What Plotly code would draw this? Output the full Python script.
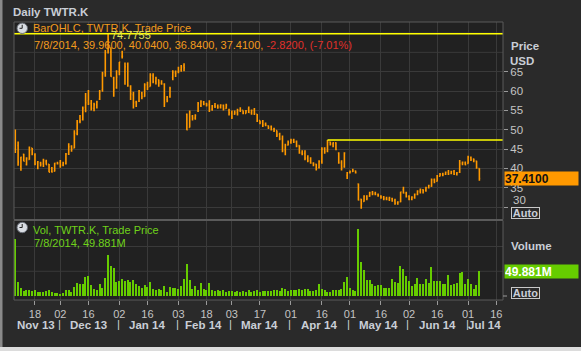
import pandas as pd
import plotly.graph_objects as go

# ---------------- data ----------------
holidays = ["2013-11-28", "2013-12-25", "2014-01-01", "2014-01-20",
            "2014-02-17", "2014-04-18", "2014-05-26", "2014-07-04"]
all_days = [d for d in pd.bdate_range("2013-11-07", "2014-07-31")
            if d.strftime("%Y-%m-%d") not in holidays]

open_ = [45.10, 45.93, 40.50, 43.66, 41.03, 42.34, 45.25, 43.50, 41.39, 41.40,
         41.25, 41.81, 41.08, 39.16, 39.30, 41.40, 41.50, 40.90, 41.20, 43.80,
         45.70, 45.30, 49.00, 52.20, 52.60, 55.80, 57.50, 56.80, 55.50, 56.50,
         57.90, 60.30, 64.90, 71.00, 70.10, 63.30, 60.90, 65.00, 69.00, 65.00,
         67.00, 61.20, 59.00, 57.20, 57.40, 59.50, 58.60, 61.70, 61.20, 63.90,
         62.50, 62.90, 62.00, 61.80, 57.80, 58.50, 63.50, 64.70, 65.00, 65.50,
         66.50, 54.00, 50.60, 53.50, 53.00, 54.80, 56.20, 57.20, 56.80, 56.50,
         55.30, 56.20, 56.00, 55.90, 56.30, 55.50, 55.00, 54.30, 54.00, 54.50,
         55.00, 55.00, 54.20, 55.40, 54.40, 55.10, 54.00, 52.40, 52.00, 51.40,
         51.00, 50.80, 50.10, 49.80, 48.80, 47.70, 44.80, 46.10, 46.80, 47.30,
         46.90, 45.90, 44.00, 43.90, 42.70, 42.00, 41.30, 41.10, 40.20, 41.80,
         45.20, 44.50, 46.80, 46.30, 46.60, 44.00, 41.50, 40.50, 38.20, 38.90,
         39.20, 39.30, 36.00, 32.00, 31.50, 32.90, 32.80, 33.80, 33.50, 33.20,
         32.90, 32.60, 32.20, 32.10, 32.20, 31.70, 31.10, 31.40, 34.50, 33.60,
         32.80, 32.00, 32.50, 33.30, 34.10, 34.50, 34.40, 35.00, 35.40, 37.10,
         36.70, 38.00, 38.50, 38.50, 39.00, 38.70, 39.20, 38.60, 39.00, 41.30,
         41.40, 41.30, 42.80, 42.40, 41.90, 39.96]
high = [50.09, 46.94, 43.00, 43.78, 42.87, 45.67, 45.27, 43.95, 41.90, 41.75,
        42.49, 42.28, 41.14, 40.40, 41.50, 41.70, 42.20, 41.70, 44.00, 46.50,
        46.00, 49.90, 52.50, 53.80, 56.00, 59.50, 60.30, 57.70, 57.00, 57.50,
        60.30, 65.00, 70.60, 74.7755, 71.30, 63.70, 65.40, 67.50, 70.40, 67.40,
        67.40, 61.50, 59.80, 57.50, 60.30, 59.80, 62.00, 62.40, 64.60, 64.60,
        63.70, 63.00, 62.80, 62.00, 58.70, 61.10, 65.40, 65.30, 66.30, 66.70,
        67.20, 54.20, 55.00, 53.80, 54.00, 57.20, 57.60, 57.40, 57.00, 57.60,
        56.40, 56.90, 56.50, 56.60, 56.50, 56.70, 55.40, 55.00, 55.00, 55.40,
        55.80, 55.00, 55.10, 56.00, 55.20, 55.60, 54.10, 52.40, 52.50, 51.90,
        51.10, 51.10, 50.50, 49.80, 49.20, 48.50, 46.40, 47.20, 47.70, 47.70,
        47.20, 46.00, 44.70, 44.70, 43.40, 42.90, 41.60, 41.20, 42.10, 45.50,
        45.50, 47.35, 46.90, 46.80, 46.80, 44.20, 42.10, 44.20, 39.10, 39.50,
        39.90, 39.50, 36.10, 32.20, 33.10, 33.10, 34.00, 34.20, 34.00, 33.50,
        33.10, 32.90, 32.70, 32.70, 32.40, 32.20, 31.50, 34.00, 35.30, 34.00,
        33.10, 32.80, 33.50, 34.40, 34.80, 34.60, 35.30, 35.80, 37.40, 37.40,
        38.30, 38.80, 38.90, 39.20, 39.60, 39.40, 39.60, 39.10, 42.20, 41.80,
        41.80, 43.30, 43.10, 42.60, 42.00, 40.04]
low = [44.00, 40.69, 39.40, 41.83, 40.76, 42.24, 43.43, 40.85, 39.81, 40.51,
       40.37, 40.97, 39.00, 39.00, 39.20, 41.00, 40.20, 40.60, 41.00, 43.50,
       44.30, 45.20, 48.60, 51.70, 52.40, 54.50, 56.40, 55.00, 54.80, 55.50,
       57.70, 59.80, 63.70, 69.70, 63.70, 58.50, 60.60, 64.10, 68.40, 61.60,
       61.10, 57.70, 55.50, 55.90, 57.20, 57.90, 58.50, 60.30, 61.20, 62.00,
       61.70, 61.10, 61.60, 55.90, 57.10, 58.30, 62.80, 63.60, 64.60, 65.00,
       65.10, 49.90, 50.60, 52.40, 52.60, 54.60, 55.90, 56.30, 56.00, 54.60,
       54.90, 55.60, 55.40, 55.50, 55.00, 55.40, 53.70, 52.80, 53.90, 53.70,
       54.60, 54.00, 54.20, 54.30, 53.90, 53.80, 52.00, 51.40, 50.70, 50.90,
       50.20, 49.80, 49.40, 48.10, 47.30, 44.20, 43.40, 45.90, 46.40, 46.60,
       45.50, 43.80, 43.40, 42.10, 41.60, 41.20, 40.60, 39.50, 40.00, 41.20,
       43.80, 44.20, 45.90, 45.50, 44.70, 41.20, 39.50, 40.20, 37.30, 38.70,
       39.10, 38.70, 31.70, 29.60, 31.40, 31.80, 32.70, 33.10, 33.10, 32.70,
       32.20, 31.80, 31.80, 31.60, 31.40, 30.60, 30.60, 31.30, 33.50, 32.50,
       31.80, 31.80, 32.20, 33.10, 33.50, 33.50, 34.00, 34.80, 35.30, 36.20,
       36.60, 37.90, 38.00, 38.30, 38.30, 38.50, 38.30, 38.20, 38.80, 40.80,
       40.80, 41.20, 41.90, 41.60, 39.90, 36.84]
close = [44.90, 41.65, 42.90, 41.90, 42.60, 44.69, 43.98, 41.14, 41.75, 41.05,
         42.06, 41.00, 39.06, 39.10, 41.30, 41.20, 40.80, 41.40, 43.70, 45.60,
         45.00, 49.10, 51.90, 52.30, 55.50, 57.00, 56.80, 55.60, 56.50, 57.20,
         59.80, 64.50, 70.00, 73.30, 63.80, 60.50, 63.60, 67.50, 69.00, 66.30,
         61.50, 59.30, 57.00, 57.00, 60.00, 58.50, 61.60, 61.00, 64.10, 62.40,
         63.30, 62.10, 61.90, 57.00, 57.50, 60.70, 64.90, 64.50, 65.20, 66.20,
         66.00, 50.00, 54.50, 53.00, 53.70, 56.70, 57.30, 56.60, 56.40, 55.20,
         56.10, 56.00, 55.80, 56.40, 55.40, 56.30, 54.40, 53.30, 54.40, 55.00,
         55.10, 54.30, 54.90, 54.50, 55.00, 54.20, 52.40, 51.90, 51.30, 51.20,
         50.50, 50.00, 49.90, 48.60, 47.60, 44.60, 46.00, 46.70, 47.30, 46.90,
         45.80, 44.00, 43.80, 42.60, 42.00, 41.40, 41.10, 40.00, 41.80, 45.00,
         44.30, 46.80, 46.30, 46.60, 44.90, 41.50, 40.20, 44.00, 38.90, 39.20,
         39.40, 38.90, 31.85, 30.90, 32.90, 32.30, 33.70, 33.50, 33.30, 33.00,
         32.60, 32.20, 32.00, 32.40, 31.60, 31.00, 31.30, 33.90, 33.70, 32.70,
         32.00, 32.60, 33.30, 34.10, 34.60, 34.30, 35.00, 35.60, 37.10, 36.60,
         38.00, 38.50, 38.40, 39.00, 38.60, 39.20, 38.50, 38.90, 41.30, 41.60,
         41.00, 42.90, 42.30, 42.10, 40.23, 37.41]
volume = [115.8, 28.3, 16.2, 9.4, 11.4, 12.8, 9.4, 12.8, 8.1, 8.1,
          8.1, 9.4, 12.8, 8.1, 6.1, 6.1, 4.7, 6.1, 11.4, 11.4,
          8.1, 18.2, 26.2, 24.9, 23.6, 38.4, 40.4, 21.5, 14.8, 12.8,
          23.6, 16.8, 36.3, 82.1, 60.6, 56.5, 28.3, 29.6, 33.7, 29.6,
          31.6, 28.3, 31.6, 23.6, 19.5, 16.2, 21.5, 18.2, 28.3, 13.5,
          11.4, 13.5, 11.4, 19.5, 8.1, 17.5, 16.2, 16.2, 13.5, 20.2,
          33.7, 63.9, 31.6, 14.8, 19.5, 11.4, 26.9, 14.8, 12.8, 25.6,
          12.8, 9.4, 11.4, 9.4, 11.4, 8.1, 9.4, 9.4, 8.1, 9.4,
          8.1, 9.4, 8.1, 11.4, 8.1, 9.4, 11.4, 8.1, 10.8, 9.4,
          10.8, 9.4, 11.4, 11.4, 9.4, 16.2, 14.8, 9.4, 11.4, 11.4,
          12.8, 13.5, 12.8, 13.5, 13.5, 9.4, 9.4, 11.4, 23.6, 13.5,
          11.4, 8.1, 8.1, 11.4, 12.8, 12.8, 13.5, 28.3, 38.4, 16.8,
          12.8, 10.1, 134.8, 68.7, 51.9, 31.7, 33.0, 24.9, 19.5, 21.6,
          21.6, 16.2, 16.2, 16.2, 35.0, 28.3, 26.3, 60.0, 53.9, 39.8,
          30.3, 19.5, 24.9, 36.4, 24.9, 23.6, 35.0, 26.3, 58.6, 30.3,
          30.3, 30.3, 24.9, 23.6, 41.8, 21.6, 24.9, 26.3, 46.5, 48.5,
          23.6, 35.0, 23.6, 14.8, 21.6, 49.881]

tick_dates = ["2013-11-18", "2013-12-02", "2013-12-16", "2014-01-02", "2014-01-16",
              "2014-02-03", "2014-02-18", "2014-03-03", "2014-03-17", "2014-04-01",
              "2014-04-16", "2014-05-01", "2014-05-16", "2014-06-02", "2014-06-16",
              "2014-07-01", "2014-07-16"]
tick_labels = ["18", "02", "16", "02", "16", "03", "18", "03", "17", "01",
               "16", "01", "16", "02", "16", "01", "16"]
month_keys = ["2013-11", "2013-12", "2014-01", "2014-02", "2014-03",
              "2014-04", "2014-05", "2014-06", "2014-07"]
month_labels = ["Nov 13", "Dec 13", "Jan 14", "Feb 14", "Mar 14",
                "Apr 14", "May 14", "Jun 14", "Jul 14"]
resist_start = 111  # trading-day index where the second yellow line starts

# ---------------- geometry / style ----------------
W, H = 581, 351
ML, MR, MT, MB = 14, 78, 22, 51
PW, PH = W - ML - MR, H - MT - MB
X_RANGE = [-0.46, 173.4]
PRICE_RANGE = [26.94, 77.84]
VOL_RANGE = [-8.08, 151.5]
ORANGE = "#ff9900"
GREEN = "#66cc00"
YELLOW = "#ffff00"
TXT = "#c9ced6"
GRID = "#3a3a3a"
FONT = "Liberation Sans"


def px(x):
    return (x - ML) / PW


def py(y):
    return (H - MB - y) / PH


n = len(close)
dates = all_days[:n]
idx = list(range(n))
pos = {d.strftime("%Y-%m-%d"): k for k, d in enumerate(all_days)}
tick_idx = [pos[d] for d in tick_dates]
hover = [d.strftime("%m/%d/%Y") for d in dates]

price_dom = [py(219), py(22)]
vol_dom = [py(300), py(221)]

fig = go.Figure()
fig.add_trace(go.Ohlc(
    x=idx, open=open_, high=high, low=low, close=close, text=hover,
    increasing=dict(line=dict(color=ORANGE, width=1.6)),
    decreasing=dict(line=dict(color=ORANGE, width=1.6)),
    tickwidth=0.32, xaxis="x", yaxis="y", showlegend=False))
fig.add_trace(go.Bar(
    x=idx, y=volume, width=0.45, marker=dict(color=GREEN, line=dict(width=0)),
    xaxis="x", yaxis="y2", showlegend=False, text=hover, textposition="none"))

shapes = []
annotations = []

# extra price gridlines that have no tick label
for lvl in [70, 75]:
    shapes.append(dict(type="line", xref="paper", yref="y", x0=0, x1=1, y0=lvl, y1=lvl,
                       line=dict(color=GRID, width=1), layer="below"))
# volume gridlines
for lvl in [50, 100]:
    shapes.append(dict(type="line", xref="paper", yref="y2", x0=0, x1=1, y0=lvl, y1=lvl,
                       line=dict(color=GRID, width=1), layer="below"))

# yellow lines
top_high = max(high)
shapes.append(dict(type="line", xref="paper", yref="y", x0=0, x1=1, y0=top_high, y1=top_high,
                   line=dict(color=YELLOW, width=1.5)))
shapes.append(dict(type="line", xref="x", yref="y", x0=resist_start, x1=X_RANGE[1],
                   y0=high[resist_start], y1=high[resist_start],
                   line=dict(color=YELLOW, width=1.5)))

# panel borders
for (t, b) in [(22, 219.5), (220.5, 300)]:
    shapes.append(dict(type="rect", xref="paper", yref="paper", x0=0, x1=1,
                       y0=py(b), y1=py(t), line=dict(color="#5a5a5a", width=1),
                       fillcolor="rgba(0,0,0,0)"))
# frame strips
shapes.append(dict(type="rect", xref="paper", yref="paper", x0=px(0), x1=px(2.5),
                   y0=py(351), y1=py(0), fillcolor="#8a8a8a", line=dict(width=0)))
shapes.append(dict(type="rect", xref="paper", yref="paper", x0=px(0), x1=px(581),
                   y0=py(351), y1=py(347), fillcolor="#dcdcdc", line=dict(width=0)))
# volume axis zero tick
shapes.append(dict(type="line", xref="paper", yref="y2", x0=1, x1=px(507), y0=0, y1=0,
                   line=dict(color="#9a9a9a", width=1)))

# clock icons
for cy in [28.3, 227.5]:
    shapes.append(dict(type="circle", xref="paper", yref="paper",
                       x0=px(17), x1=px(27.5), y0=py(cy + 5.2), y1=py(cy - 5.2),
                       fillcolor="#d9dde3", line=dict(color="#6a6f78", width=1)))
    shapes.append(dict(type="line", xref="paper", yref="paper",
                       x0=px(22.2), x1=px(22.2), y0=py(cy), y1=py(cy - 3.5),
                       line=dict(color="#222", width=1)))
    shapes.append(dict(type="line", xref="paper", yref="paper",
                       x0=px(22.2), x1=px(19.5), y0=py(cy), y1=py(cy),
                       line=dict(color="#222", width=1)))


def ann(text, x, y, size=11, color=TXT, bold=False, xanchor="left", xref="paper",
        yref="paper", **kw):
    t = f"<b>{text}</b>" if bold else text
    d = dict(text=t, x=x, y=y, xref=xref, yref=yref, xanchor=xanchor, yanchor="middle",
             showarrow=False, font=dict(family=FONT, size=size, color=color))
    d.update(kw)
    annotations.append(d)


last = dates[-1]
dstr = f"{last.month}/{last.day}/{last.year}"
chg = close[-1] - close[-2]
pct = chg / close[-2] * 100

ann("Daily TWTR.K", px(10.5), py(12), size=11.5, bold=True)
ann("BarOHLC, TWTR.K, Trade Price", px(31), py(28.5), size=11, color="#f29b1d")
ann(f"{dstr}, {open_[-1]:.4f}, {high[-1]:.4f}, {low[-1]:.4f}, {close[-1]:.4f}, "
    f"<span style='color:#e0302a'>{chg:.4f}, ({pct:.2f}%)</span>",
    px(32), py(44.5), size=11, color="#f29b1d")
ann(f"{top_high:.4f}", px(109), py(35.2), size=11, color="#e2e65a")
ann("Vol, TWTR.K, Trade Price", px(31), py(229.5), size=11, color="#6fd21a")
ann(f"{dstr}, {volume[-1]:.3f}M", px(32), py(243.5), size=11, color="#6fd21a")

# right side labels
ann("Price", px(508.5), py(46), size=11.5, bold=True)
ann("USD", px(508), py(61), size=11.5, bold=True)
ann("Volume", px(508.5), py(246), size=11.5, bold=True)
ann("30", px(511), py(200), size=11.5, color="#c4c4c4")
ann(f"{close[-1]:.4f}", px(503.5), close[-1], size=12, color="#111111", bold=True,
    yref="y", bgcolor=ORANGE, width=73, height=13, align="left", borderpad=0)
ann(f"{volume[-1]:.3f}M", px(503.5), volume[-1], size=12, color="#ffffff", bold=True,
    yref="y2", bgcolor=GREEN, width=73, height=13, align="left", borderpad=0)
for cy in [213.5, 293.3]:
    ann("Auto", px(511), py(cy), size=11, bold=True, bordercolor="#c8c8c8",
        borderwidth=1, borderpad=0, width=27, height=10, align="center")

# month labels and separators
first_idx = []
for mk in month_keys:
    first_idx.append(min(k for k, d in enumerate(all_days) if d.strftime("%Y-%m") == mk))
for j, (lab, s) in enumerate(zip(month_labels, first_idx)):
    a = max(s - 0.5, X_RANGE[0])
    b = first_idx[j + 1] - 0.5 if j + 1 < len(first_idx) else X_RANGE[1]
    ann(lab, (a + b) / 2, py(325), size=11.5, bold=True, xanchor="center", xref="x")
    if j > 0:
        ann("|", s - 0.4, py(324.5), size=11.5, xanchor="center", xref="x")

fig.update_layout(
    width=W, height=H, autosize=False,
    margin=dict(l=ML, r=MR, t=MT, b=MB, pad=0),
    paper_bgcolor="#2a2a2a", plot_bgcolor="#212121",
    font=dict(family=FONT, size=11, color="#c4c4c4"),
    showlegend=False, bargap=0,
    xaxis=dict(range=X_RANGE, rangeslider=dict(visible=False), tickmode="array",
               tickvals=tick_idx, ticktext=tick_labels, ticks="outside", ticklen=4,
               tickcolor="#9a9a9a", showgrid=True, gridcolor=GRID, gridwidth=1,
               zeroline=False, showline=False, anchor="y2",
               tickfont=dict(family=FONT, size=11, color="#c4c4c4")),
    yaxis=dict(domain=price_dom, range=PRICE_RANGE, side="right", tickmode="array",
               tickvals=[30, 35, 40, 45, 50, 55, 60, 65],
               ticktext=["", "35", "40", "45", "50", "55", "60", "65"],
               ticks="outside", ticklen=4, tickcolor="#9a9a9a",
               showgrid=True, gridcolor=GRID, zeroline=False, showline=False,
               tickfont=dict(family=FONT, size=11.5, color="#c4c4c4"), anchor="x"),
    yaxis2=dict(domain=vol_dom, range=VOL_RANGE, side="right", showticklabels=False,
                ticks="", showgrid=False, zeroline=False, showline=False, anchor="x"),
    shapes=shapes, annotations=annotations,
)

fig.write_html("out.html")
